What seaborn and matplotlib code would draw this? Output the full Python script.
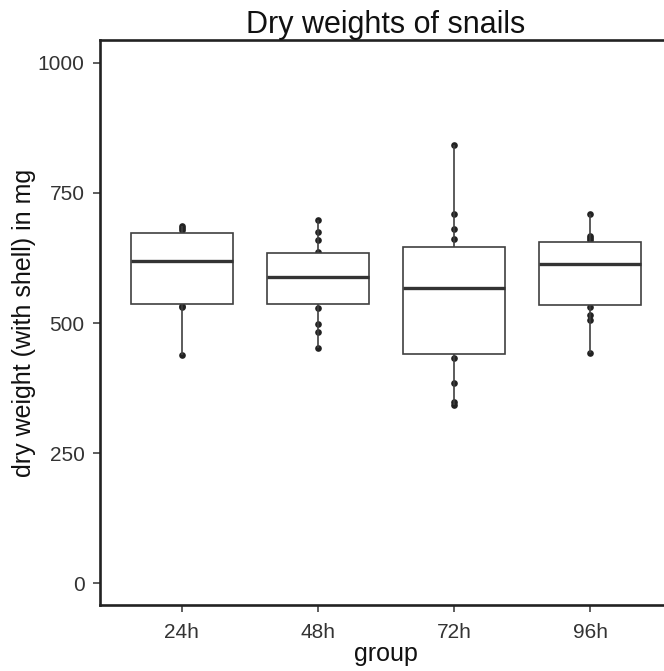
import pandas as pd
import matplotlib.pyplot as plt
import seaborn as sns

# dry weights (mg) per group
groups = ['24h', '48h', '72h', '96h']
w_24h = [438, 530, 533, 545, 610, 628, 656, 678, 682, 687]
w_48h = [452, 483, 498, 528, 560, 575, 585, 593, 610, 625, 637, 660, 674, 698]
w_72h = [343, 348, 384, 433, 461, 510, 555, 581, 600, 605, 661, 681, 709, 842]
w_96h = [442, 505, 515, 531, 547, 580, 605, 621, 632, 644, 660, 663, 668, 709]
y_ticks = [0, 250, 500, 750, 1000]

df = pd.DataFrame({
    'group': ['24h'] * len(w_24h) + ['48h'] * len(w_48h) + ['72h'] * len(w_72h) + ['96h'] * len(w_96h),
    'weight': w_24h + w_48h + w_72h + w_96h,
})

sns.set_style('ticks')
plt.rcParams['font.family'] = ['Liberation Sans', 'DejaVu Sans']

fig = plt.figure(figsize=(6.64, 6.71), dpi=100)
ax = fig.add_axes([100 / 664, 66 / 671, 572 / 664, 565 / 671])

sns.stripplot(data=df, x='group', y='weight', order=groups, jitter=False,
              color='#222222', size=4.8, zorder=1, ax=ax)
sns.boxplot(data=df, x='group', y='weight', order=groups, width=0.75,
            color='white', linecolor='#404040', linewidth=1.2, fliersize=0,
            showcaps=False, medianprops=dict(linewidth=2.4, color='#333333'),
            ax=ax)

ax.set_xlim(-0.6, 3.6)
ax.set_ylim(-42, 1044)
ax.set_yticks(y_ticks)
ax.set_title('Dry weights of snails', fontsize=22, pad=2, color='#111111')
ax.set_xlabel('group', fontsize=18, color='#111111', labelpad=0)
ax.set_ylabel('dry weight (with shell) in mg', fontsize=18, color='#111111', labelpad=1)
ax.tick_params(axis='x', length=5, width=1.1, color='#333333', labelsize=15, labelcolor='#333333', pad=8)
ax.tick_params(axis='y', length=5, width=1.1, color='#333333', labelsize=15, labelcolor='#333333', pad=6)
for s in ax.spines.values():
    s.set_visible(True)
    s.set_linewidth(1.9)
    s.set_color('#222222')

fig.savefig('out.png', dpi=100)
